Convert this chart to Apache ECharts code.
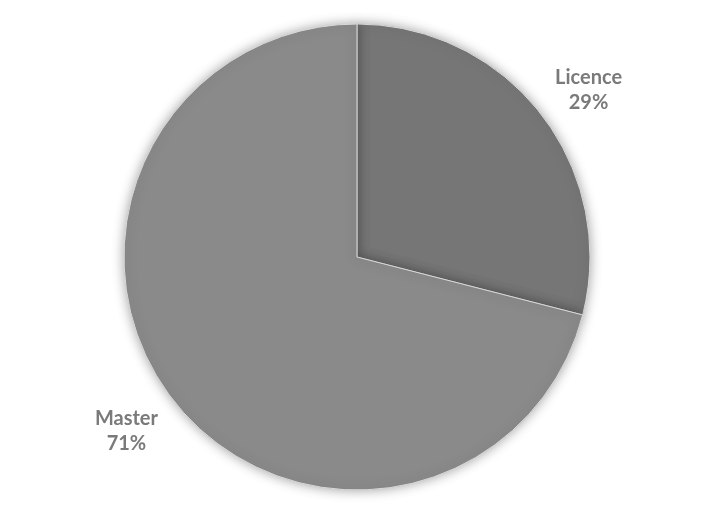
<!DOCTYPE html>
<html>
<head>
<meta charset="utf-8">
<script src="https://cdn.jsdelivr.net/npm/echarts@6/dist/echarts.min.js"></script>
<style>
html, body { margin: 0; padding: 0; background: #ffffff; }
#chart { width: 714px; height: 525px; }
</style>
</head>
<body>
<div id="chart"></div>
<script>
// Share of students by degree
const categories = ['Licence', 'Master'];
const shares = [29, 71];
const sliceColors = ['#767676', '#8a8a8a'];

const chart = echarts.init(document.getElementById('chart'), null, { renderer: 'canvas' });

chart.setOption({
  backgroundColor: '#ffffff',
  animation: false,
  series: [{
    type: 'pie',
    center: ['50%', 257],
    radius: 233,
    startAngle: 90,
    clockwise: true,
    data: categories.map((name, i) => ({
      name: name,
      value: shares[i],
      itemStyle: { color: sliceColors[i] }
    })),
    itemStyle: {
      borderColor: '#d9d9d9',
      borderWidth: 1,
      shadowBlur: 12,
      shadowColor: 'rgba(0,0,0,0.35)',
      shadowOffsetX: 0,
      shadowOffsetY: 0
    },
    label: {
      show: true,
      position: 'outside',
      formatter: '{b}\n{d}%',
      fontFamily: 'Lato, "Open Sans", sans-serif',
      fontWeight: 'bold',
      fontSize: 20,
      lineHeight: 25,
      color: '#7a7a7a',
      align: 'center'
    },
    labelLine: { show: false, length: 55, length2: 0 },
    // center each label on the end point of its (hidden) leader line;
    // labels on the right side sit a little lower
    labelLayout: function (params) {
      const pts = params.labelLinePoints;
      if (!pts) return {};
      const onRight = pts[1][0] > pts[0][0];
      return {
        x: pts[1][0] + (onRight ? 4 : -3),
        y: pts[1][1] + (onRight ? 10 : -2),
        align: 'center',
        verticalAlign: 'middle'
      };
    },
    emphasis: { disabled: true }
  }]
});
</script>
</body>
</html>
